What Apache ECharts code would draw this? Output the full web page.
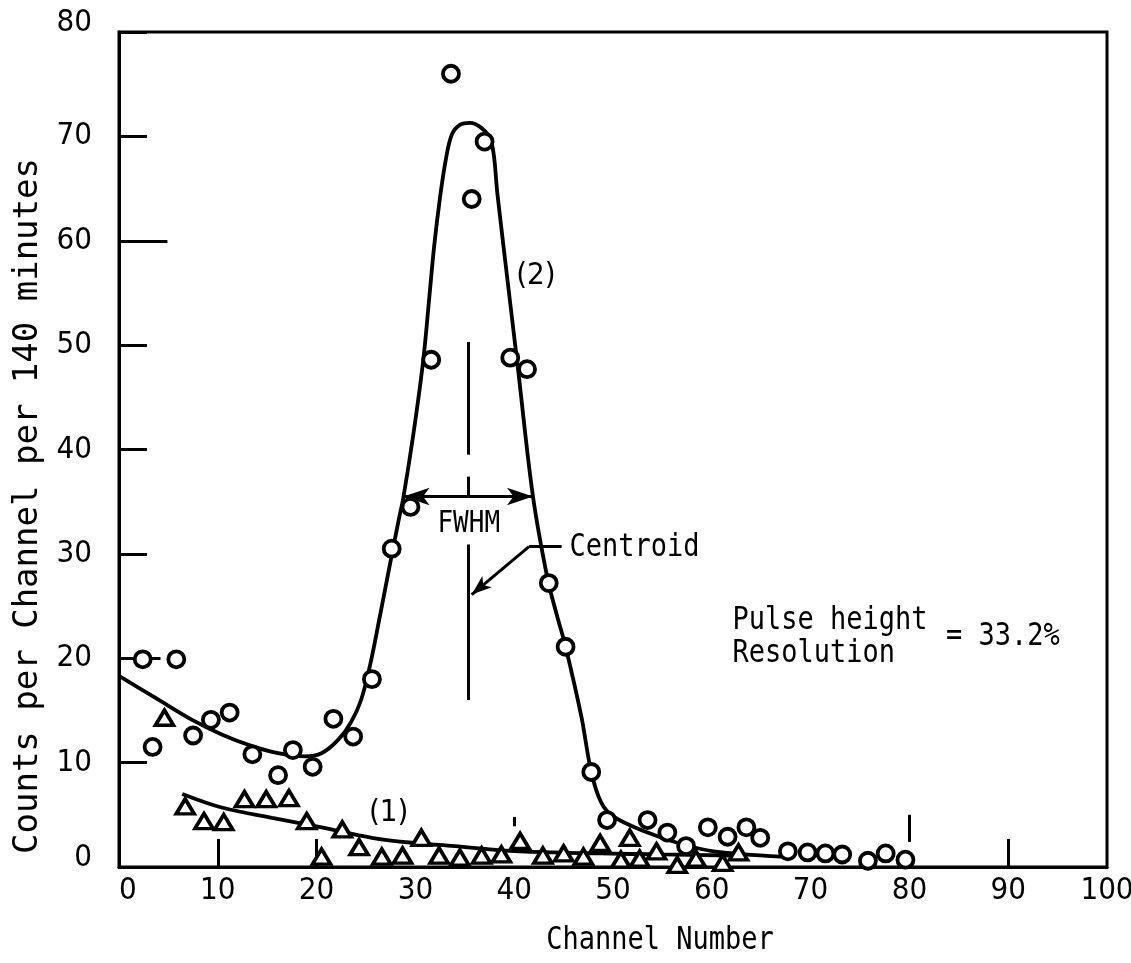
<!DOCTYPE html>
<html>
<head>
<meta charset="utf-8">
<script src="https://cdn.jsdelivr.net/npm/echarts@6/dist/echarts.min.js"></script>
<style>
  html, body { margin: 0; padding: 0; background: #fff; }
  #chart { width: 1131px; height: 963px; }
</style>
</head>
<body>
<div id="chart"></div>
<script>
// Spectrum (2): counts per channel, open circles
const circleChannel = [2.4, 5.8, 3.4, 7.5, 9.3, 11.2, 13.5, 16.1, 17.6, 19.6, 21.7, 23.7, 25.6, 27.6, 29.5,
  31.6, 33.6, 35.7, 37.0, 39.6, 41.3, 43.5, 45.2, 47.8, 49.4, 53.5, 55.5, 57.4, 59.6, 61.6, 63.5, 64.9,
  67.7, 69.7, 71.5, 73.2, 75.8, 77.6, 79.6];
const circleCounts = [19.9, 19.9, 11.5, 12.6, 14.1, 14.8, 10.8, 8.8, 11.2, 9.6, 14.2, 12.5, 18.0, 30.5, 34.5,
  48.6, 76.0, 64.0, 69.5, 48.8, 47.7, 27.2, 21.1, 9.1, 4.5, 4.5, 3.3, 2.0, 3.8, 2.9, 3.8, 2.8,
  1.5, 1.4, 1.3, 1.2, 0.6, 1.3, 0.7];

// Spectrum (1): background counts, open triangles
const triangleChannel = [4.6, 6.7, 8.6, 10.6, 12.7, 14.9, 17.2, 19.0, 20.5, 22.6, 24.3, 26.6, 28.7, 30.6, 32.4,
  34.5, 36.7, 38.7, 40.6, 42.9, 45.0, 47.0, 48.7, 50.8, 51.7, 52.7, 54.4, 56.5, 58.4, 61.1, 62.7];
const triangleCounts = [14.3, 5.8, 4.4, 4.3, 6.5, 6.5, 6.6, 4.4, 1.0, 3.6, 1.9, 1.0, 1.1, 2.8, 1.1,
  0.9, 1.1, 1.2, 2.5, 1.1, 1.3, 1.0, 2.3, 0.7, 2.8, 0.8, 1.5, 0.2, 0.8, 0.4, 1.4];

// Hand-fitted curve through spectrum (2)
const fit2Channel = [0, 3.7, 7.4, 10.4, 13.4, 16.1, 18.8, 20.5, 22.2, 23.5, 24.5, 25.4, 26.3, 27.3, 28.3, 28.8,
  29.8, 30.8, 31.4, 31.9, 32.5, 33.1, 33.7, 34.5, 35.5, 36.7, 37.7, 38.3, 38.9, 39.6, 40.4, 41.9, 43.4,
  44.3, 45.2, 46.8, 47.8, 48.8, 50.1, 53.5, 56.9, 60.2, 67.0];
const fit2Counts = [18.3, 16.2, 14.1, 12.7, 11.6, 10.9, 10.6, 10.9, 12.2, 13.9, 16.0, 19.3, 23.5, 28.4, 33.2, 35.5,
  41.5, 48.6, 54.5, 59.5, 64.2, 67.9, 70.2, 71.1, 71.3, 70.8, 69.5, 64.5, 59.6, 54.0, 47.6, 35.5, 27.5,
  24.2, 21.1, 14.4, 9.1, 6.2, 4.8, 3.3, 2.2, 1.5, 1.0];

// Hand-fitted curve through spectrum (1)
const fit1Channel = [6.4, 10.4, 15.5, 20.5, 25.6, 29.9, 34.0, 38.7, 44.0, 48.8, 55.0, 62.0];
const fit1Counts = [7.0, 5.7, 4.7, 3.8, 2.8, 2.3, 2.0, 1.6, 1.4, 1.3, 1.2, 1.1];

// Axis ticks
const xTickLabels = [0, 10, 20, 30, 40, 50, 60, 70, 80, 90, 100];
const xTickMarks = [10, 20, 90];
const yTickLabels = [0, 10, 20, 30, 40, 50, 60, 70, 80];

// Peak markers: centroid channel, half-maximum level and its channel limits
const centroidChannel = 35.3;
const halfMax = 35.5;
const fwhmLeft = 28.8;
const fwhmRight = 41.9;
const resolutionText = '= 33.2%';

const monoFont = "'DejaVu Sans Mono', 'Liberation Mono', monospace";
const tickFont = "'Liberation Sans Narrow', 'DejaVu Sans Condensed', 'Noto Sans', sans-serif";
const ink = '#000';

const zip = (xs, ys) => xs.map((x, i) => [x, ys[i]]);

// Line segments drawn in data space
function seg(a, b) {
  return [{ coord: a, symbol: 'none' }, { coord: b, symbol: 'none' }];
}
function arrow(a, b, size) {
  return [{ coord: a, symbol: 'none' }, { coord: b, symbol: 'arrow', symbolSize: size }];
}
const fwhmMid = [(fwhmLeft + fwhmRight) / 2, halfMax];
const annotationLines = [
  // centroid marker, broken around the FWHM label
  seg([centroidChannel, 50.3], [centroidChannel, 39.5]),
  seg([centroidChannel, 37.4], [centroidChannel, halfMax]),
  seg([centroidChannel, 30.9], [centroidChannel, 16.0]),
  // FWHM double arrow
  arrow(fwhmMid, [fwhmLeft, halfMax], [13, 26]),
  arrow(fwhmMid, [fwhmRight, halfMax], [13, 26]),
  // Centroid leader
  seg([44.8, 30.7], [41.5, 30.7]),
  arrow([41.5, 30.7], [35.7, 26.1], [11, 20]),
  // longer ticks on the value axis
  seg([0, 20], [4.2, 20]),
  seg([0, 60], [4.9, 60]),
  // loose channel ticks
  seg([40, 3.9], [40, 4.8]),
  seg([80, 2.4], [80, 5.0])
];

// Text notes placed at data positions
const annotationTexts = [
  { text: 'FWHM', at: [35.4, 32.8], align: 'center', font: monoFont, size: 26 },
  { text: 'Centroid', at: [45.6, 30.6], align: 'left', font: monoFont, size: 27 },
  { text: '(2)', at: [42.2, 56.6], align: 'center', font: tickFont, size: 31 },
  { text: '(1)', at: [27.3, 5.2], align: 'center', font: tickFont, size: 31 },
  { text: 'Pulse height', at: [62.1, 23.6], align: 'left', font: monoFont, size: 27 },
  { text: 'Resolution', at: [62.1, 20.4], align: 'left', font: monoFont, size: 27 },
  { text: resolutionText, at: [83.7, 22.0], align: 'left', font: monoFont, size: 27 }
];

const chart = echarts.init(document.getElementById('chart'), null, { renderer: 'canvas' });

chart.setOption({
  animation: false,
  backgroundColor: '#fff',
  grid: {
    left: 119, right: 24, top: 32, bottom: 96,
    outerBoundsMode: 'none', containLabel: false,
    show: true, borderColor: ink, borderWidth: 3, backgroundColor: 'transparent'
  },
  xAxis: {
    type: 'value', min: 0, max: 100, interval: 10,
    axisLine: { show: true, lineStyle: { color: ink, width: 3 } },
    axisTick: { show: true, inside: true, length: 28, lineStyle: { color: ink, width: 3 }, customValues: xTickMarks },
    axisLabel: {
      color: ink, fontFamily: tickFont, fontSize: 31, margin: 8,
      customValues: xTickLabels, alignMinLabel: 'left'
    },
    splitLine: { show: false }
  },
  yAxis: {
    type: 'value', min: 0, max: 80, interval: 10,
    axisLine: { show: true, lineStyle: { color: ink, width: 3 } },
    axisTick: { show: true, inside: true, length: 28, lineStyle: { color: ink, width: 3 } },
    axisLabel: {
      color: ink, fontFamily: tickFont, fontSize: 31, margin: 27, customValues: yTickLabels,
      formatter: v => (v === 0 || v === 80) ? '{up|' + v + '}' : String(v),
      rich: { up: { fontFamily: tickFont, fontSize: 31, color: ink, padding: [0, 0, 19, 0] } }
    },
    splitLine: { show: false }
  },
  series: [
    {
      name: 'fit (2)', type: 'line', data: zip(fit2Channel, fit2Counts),
      smooth: 0.35, showSymbol: false, silent: true, z: 2,
      lineStyle: { color: ink, width: 3.8 }
    },
    {
      name: 'fit (1)', type: 'line', data: zip(fit1Channel, fit1Counts),
      smooth: 0.35, showSymbol: false, silent: true, z: 2,
      lineStyle: { color: ink, width: 3.8 }
    },
    {
      name: 'annotations', type: 'scatter', data: [], silent: true, z: 3,
      markLine: {
        silent: true, animation: false, symbol: 'none',
        label: { show: false },
        lineStyle: { color: ink, width: 3, type: 'solid', opacity: 1 },
        emphasis: { disabled: true },
        data: annotationLines
      }
    },
    {
      name: 'spectrum (1)', type: 'scatter', data: zip(triangleChannel, triangleCounts),
      symbol: 'triangle', symbolSize: [18, 15], z: 4,
      itemStyle: { color: '#fff', borderColor: ink, borderWidth: 3.6, opacity: 1 }
    },
    {
      name: 'spectrum (2)', type: 'scatter', data: zip(circleChannel, circleCounts),
      symbol: 'circle', symbolSize: 16, z: 5,
      itemStyle: { color: '#fff', borderColor: ink, borderWidth: 3.8, opacity: 1 }
    }
  ]
});

// Axis titles and text notes, slightly stretched vertically like typewriter lettering
const toPx = v => chart.convertToPixel({ gridIndex: 0 }, v);
const graphics = [
  {
    id: 'xtitle', type: 'text', x: 660, y: 941, scaleY: 1.15,
    style: { text: 'Channel Number', fill: ink, font: '27px ' + monoFont, align: 'center', verticalAlign: 'middle' }
  },
  {
    id: 'ytitle', type: 'text', x: 28, y: 506, rotation: Math.PI / 2,
    style: { text: 'Counts per Channel per 140 minutes', fill: ink, font: '34px ' + monoFont, align: 'center', verticalAlign: 'middle' }
  }
];
annotationTexts.forEach((t, i) => {
  const p = toPx(t.at);
  graphics.push({
    id: 'note' + i, type: 'text', x: p[0], y: p[1], scaleY: t.font === monoFont ? 1.15 : 1, z: 10,
    style: { text: t.text, fill: ink, font: t.size + 'px ' + t.font, align: t.align, verticalAlign: 'middle' }
  });
});
chart.setOption({ graphic: graphics });
</script>
</body>
</html>
